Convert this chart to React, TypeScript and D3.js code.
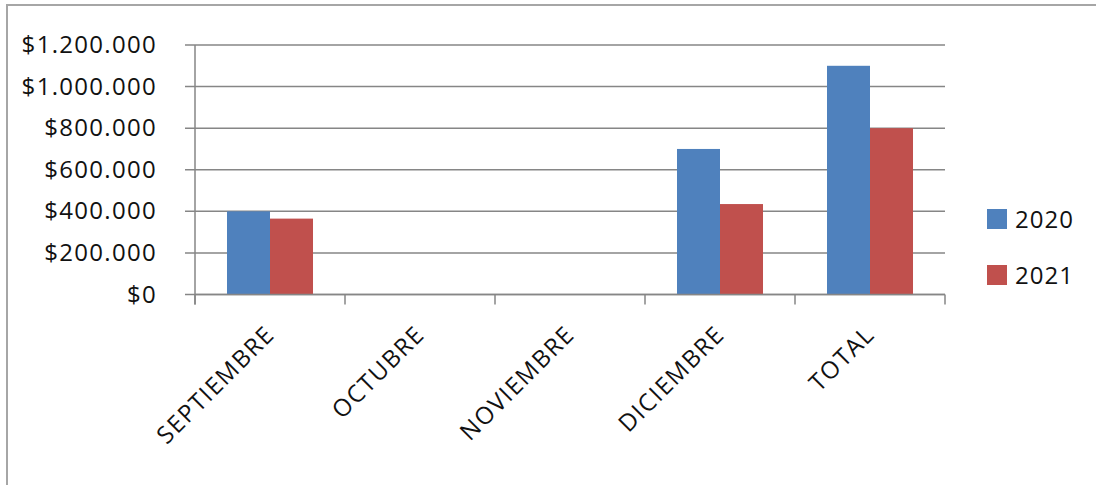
import React from "react";
import * as d3 from "d3";

const categories = ["SEPTIEMBRE", "OCTUBRE", "NOVIEMBRE", "DICIEMBRE", "TOTAL"];
const seriesNames = ["2020", "2021"];
const values2020 = [400000, 0, 0, 700000, 1100000];
const values2021 = [365000, 0, 0, 435000, 800000];
const yTicks = [0, 200000, 400000, 600000, 800000, 1000000, 1200000];
const seriesColors = ["#4f81bd", "#c0504d"];

const W = 1096;
const H = 485;
const plotLeft = 195;
const plotRight = 945;
const plotTop = 45;
const plotBottom = 294.5;
const FONT = "'Open Sans', 'Noto Sans', sans-serif";

const locale = d3.formatLocale({
  decimal: ",",
  thousands: ".",
  grouping: [3],
  currency: ["$", ""],
});
const fmt = locale.format("$,.0f");

export default function App() {
  const x = d3.scaleBand<string>().domain(categories).range([plotLeft, plotRight]).padding(0);
  const xInner = d3
    .scaleBand<string>()
    .domain(seriesNames)
    .range([0, x.bandwidth()])
    .paddingInner(0)
    .paddingOuter(0.744);
  const y = d3.scaleLinear().domain([0, 1200000]).range([plotBottom, plotTop]);
  const series = [values2020, values2021];
  const tickXs = [...categories.map((c) => x(c) as number), plotRight];

  return (
    <svg
      width={W}
      height={H}
      style={{ position: "absolute", left: 0, top: 0, background: "#fff" }}
      fontFamily={FONT}
    >
      <rect x={7} y={5} width={W + 20} height={H + 20} fill="#fff" stroke="#a6a6a6" strokeWidth={2} />
      {/* gridlines */}
      {yTicks.map((t) => (
        <line
          key={"g" + t}
          x1={plotLeft - 10}
          x2={plotRight}
          y1={y(t)}
          y2={y(t)}
          stroke="#868686"
          strokeWidth={1.5}
        />
      ))}
      {/* y labels */}
      {yTicks.map((t) => (
        <text
          key={"l" + t}
          x={157}
          y={y(t) + 8}
          textAnchor="end"
          fontSize={24}
          letterSpacing={1.3}
          fill="#111"
        >
          {fmt(t)}
        </text>
      ))}
      {/* bars */}
      {series.map((vals, si) =>
        vals.map((v, ci) =>
          v > 0 ? (
            <rect
              key={si + "-" + ci}
              x={(x(categories[ci]) as number) + (xInner(seriesNames[si]) as number)}
              y={y(v)}
              width={xInner.bandwidth()}
              height={y(0) - y(v)}
              fill={seriesColors[si]}
            />
          ) : null
        )
      )}
      {/* axes */}
      <line x1={plotLeft} x2={plotLeft} y1={plotTop} y2={plotBottom + 10} stroke="#868686" strokeWidth={1.5} />
      <line x1={plotLeft} x2={plotRight} y1={plotBottom} y2={plotBottom} stroke="#868686" strokeWidth={1.5} />
      {tickXs.map((tx, i) => (
        <line key={"t" + i} x1={tx} x2={tx} y1={plotBottom} y2={plotBottom + 10} stroke="#868686" strokeWidth={1.5} />
      ))}
      {/* category labels */}
      {categories.map((c) => {
        const cx = (x(c) as number) + x.bandwidth() / 2 + 6;
        const cy = 336;
        return (
          <text
            key={c}
            x={cx}
            y={cy}
            textAnchor="end"
            fontSize={24}
            letterSpacing={1.5}
            fill="#111"
            transform={`rotate(-45 ${cx} ${cy})`}
          >
            {c}
          </text>
        );
      })}
      {/* legend */}
      {seriesNames.map((s, i) => (
        <g key={s} transform={`translate(987, ${219 + i * 56})`}>
          <rect x={0} y={-10} width={20} height={20} fill={seriesColors[i]} />
          <text x={28} y={8.5} fontSize={24} letterSpacing={1} fill="#111">
            {s}
          </text>
        </g>
      ))}
    </svg>
  );
}
